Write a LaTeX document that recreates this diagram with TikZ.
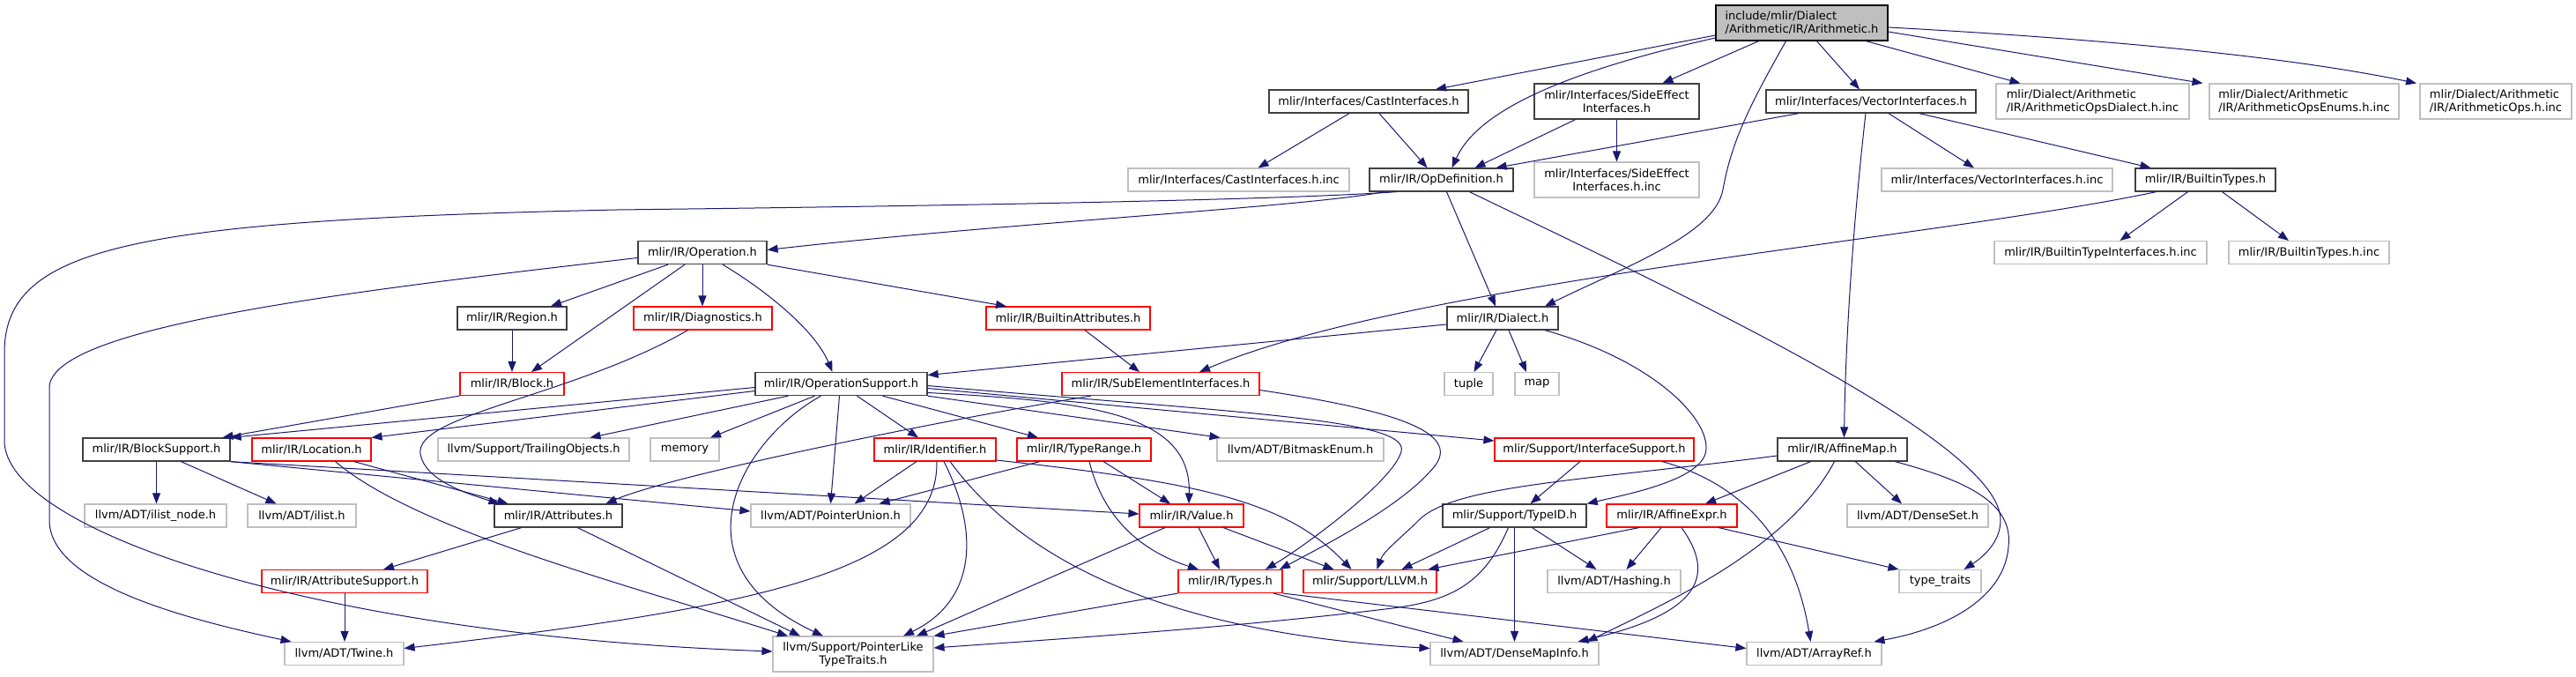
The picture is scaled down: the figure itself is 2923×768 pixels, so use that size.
\documentclass[tikz,border=0pt]{standalone}
\usepackage{fontspec}
\setmainfont{DejaVu Sans}
\usetikzlibrary{arrows.meta,calc}

\definecolor{edgeblue}{HTML}{191970}
\definecolor{boxgrey}{HTML}{BFBFBF}
\definecolor{boxdark}{HTML}{404040}

\begin{document}
\begin{tikzpicture}[
    x=1pt, y=-1pt,
    >={Triangle[length=12pt,width=9pt]}, % 箭头样式
    font=\fontsize{13pt}{15pt}\selectfont,
    hdr/.style={rectangle, inner sep=0pt, minimum height=26pt},
    mainnode/.style={hdr, draw=black, line width=1.3pt, fill=boxgrey, minimum height=40pt, align=left},
    docnode/.style={hdr, draw=boxdark, line width=1.3pt},
    truncnode/.style={hdr, draw=red, line width=1.1pt},
    extnode/.style={hdr, draw=boxgrey, line width=1.1pt},
    twoline/.style={minimum height=40pt},
    dep/.style={->, draw=edgeblue, line width=1pt}
]

    % --- 画布范围 ---
    \path[use as bounding box, fill=white] (0,0) rectangle (2923,768);

    % --- 第 1 行: 主文件 ---
    \node[mainnode, minimum width=195pt] (arith) at (2044.5,26) {include/mlir/Dialect\\/Arithmetic/IR/Arithmetic.h};

    % --- 第 2 行 ---
    \node[docnode, minimum width=226pt] (cast) at (1553,115) {mlir/Interfaces/CastInterfaces.h};
    \node[docnode, twoline, align=center, minimum width=187pt] (side) at (1834.5,115) {mlir/Interfaces/SideEffect\\Interfaces.h};
    \node[docnode, minimum width=238pt] (vect) at (2123,115) {mlir/Interfaces/VectorInterfaces.h};
    \node[extnode, twoline, align=left, minimum width=219pt] (opsdialect) at (2374.5,115) {mlir/Dialect/Arithmetic\\/IR/ArithmeticOpsDialect.h.inc};
    \node[extnode, twoline, align=left, minimum width=215pt] (opsenums) at (2614.5,115) {mlir/Dialect/Arithmetic\\/IR/ArithmeticOpsEnums.h.inc};
    \node[extnode, twoline, align=left, minimum width=172pt] (opsinc) at (2832,115) {mlir/Dialect/Arithmetic\\/IR/ArithmeticOps.h.inc};

    % --- 第 3 行 ---
    \node[extnode, minimum width=251pt] (castinc) at (1405.5,204) {mlir/Interfaces/CastInterfaces.h.inc};
    \node[docnode, minimum width=163pt] (opdef) at (1635.5,204) {mlir/IR/OpDefinition.h};
    \node[extnode, twoline, align=center, minimum width=187pt] (sideinc) at (1834.5,204) {mlir/Interfaces/SideEffect\\Interfaces.h.inc};
    \node[extnode, minimum width=262pt] (vectinc) at (2266,204) {mlir/Interfaces/VectorInterfaces.h.inc};
    \node[docnode, minimum width=159pt] (btypes) at (2502.5,204) {mlir/IR/BuiltinTypes.h};

    % --- 第 4 行 ---
    \node[docnode, minimum width=146pt] (operation) at (797,286.5) {mlir/IR/Operation.h};
    \node[extnode, minimum width=241pt] (btypeifinc) at (2383.5,286.5) {mlir/IR/BuiltinTypeInterfaces.h.inc};
    \node[extnode, minimum width=182pt] (btypesinc) at (2620,286.5) {mlir/IR/BuiltinTypes.h.inc};

    % --- 第 5 行 ---
    \node[docnode, minimum width=124pt] (region) at (581,361) {mlir/IR/Region.h};
    \node[truncnode, minimum width=157pt] (diag) at (797.5,361) {mlir/IR/Diagnostics.h};
    \node[truncnode, minimum width=186pt] (battr) at (1212,361) {mlir/IR/BuiltinAttributes.h};
    \node[docnode, minimum width=126pt] (dialect) at (1705,361) {mlir/IR/Dialect.h};

    % --- 第 6 行 ---
    \node[truncnode, minimum width=118pt] (block) at (581,435.5) {mlir/IR/Block.h};
    \node[docnode, minimum width=195pt] (opsupport) at (954.5,435.5) {mlir/IR/OperationSupport.h};
    \node[truncnode, minimum width=224pt] (subelem) at (1317,435.5) {mlir/IR/SubElementInterfaces.h};
    \node[extnode, minimum width=55pt] (tuple) at (1666.5,435.5) {tuple};
    \node[extnode, minimum width=50pt] (map) at (1744,435.5) {map};

    % --- 第 7 行 ---
    \node[docnode, minimum width=167pt] (blocksup) at (177.5,510) {mlir/IR/BlockSupport.h};
    \node[truncnode, minimum width=135pt] (location) at (353.5,510) {mlir/IR/Location.h};
    \node[extnode, minimum width=217pt] (trailing) at (605.5,510) {llvm/Support/TrailingObjects.h};
    \node[extnode, minimum width=78pt] (memory) at (777,510) {memory};
    \node[truncnode, minimum width=138pt] (ident) at (1061,510) {mlir/IR/Identifier.h};
    \node[truncnode, minimum width=152pt] (typerange) at (1230,510) {mlir/IR/TypeRange.h};
    \node[extnode, minimum width=189pt] (bitmask) at (1475.5,510) {llvm/ADT/BitmaskEnum.h};
    \node[truncnode, minimum width=226pt] (ifsupport) at (1809,510) {mlir/Support/InterfaceSupport.h};
    \node[docnode, minimum width=147pt] (affinemap) at (2090.5,510) {mlir/IR/AffineMap.h};

    % --- 第 8 行 ---
    \node[extnode, minimum width=161pt] (ilistnode) at (176.5,585) {llvm/ADT/ilist\_node.h};
    \node[extnode, minimum width=123pt] (ilist) at (342.5,585) {llvm/ADT/ilist.h};
    \node[docnode, minimum width=145pt] (attrs) at (633.5,585) {mlir/IR/Attributes.h};
    \node[extnode, minimum width=181pt] (ptrunion) at (942.5,585) {llvm/ADT/PointerUnion.h};
    \node[truncnode, minimum width=118pt] (value) at (1352,585) {mlir/IR/Value.h};
    \node[docnode, minimum width=163pt] (typeid) at (1718.5,585) {mlir/Support/TypeID.h};
    \node[truncnode, minimum width=148pt] (affexpr) at (1897,585) {mlir/IR/AffineExpr.h};
    \node[extnode, minimum width=160pt] (denseset) at (2176,585) {llvm/ADT/DenseSet.h};

    % --- 第 9 行 ---
    \node[truncnode, minimum width=188pt] (attrsup) at (391,659.5) {mlir/IR/AttributeSupport.h};
    \node[truncnode, minimum width=118pt] (types) at (1396,659.5) {mlir/IR/Types.h};
    \node[truncnode, minimum width=151pt] (llvmh) at (1554.5,659.5) {mlir/Support/LLVM.h};
    \node[extnode, minimum width=151pt] (hashing) at (1831.5,659.5) {llvm/ADT/Hashing.h};
    \node[extnode, minimum width=93pt] (typetraits) at (2201.5,659.5) {type\_traits};

    % --- 第 10 行 ---
    \node[extnode, minimum width=135pt] (twine) at (390.5,741.5) {llvm/ADT/Twine.h};
    \node[extnode, twoline, align=center, minimum width=182pt] (ptrlike) at (968,742) {llvm/Support/PointerLike\\TypeTraits.h};
    \node[extnode, minimum width=191pt] (densemapinfo) at (1718.5,741.5) {llvm/ADT/DenseMapInfo.h};
    \node[extnode, minimum width=153pt] (arrayref) at (2058.5,741.5) {llvm/ADT/ArrayRef.h};

    % --- 依赖连线 ---

    % 1. Arithmetic.h
    \draw[dep] ([yshift=-14pt]arith.west) -- ([xshift=76pt]cast.north);
    \draw[dep] ([yshift=-17pt]arith.west) .. controls (1760,85) and (1675,130) .. ([xshift=12pt]opdef.north);
    \draw[dep] ([xshift=-49pt]arith.south) -- ([xshift=52pt]side.north);
    \draw[dep] ([xshift=-18pt]arith.south) .. controls (1985,120) and (1965,160) .. (1955,215)
               .. controls (1946,265) and (1850,300) .. ([xshift=48pt]dialect.north);
    \draw[dep] ([xshift=17pt]arith.south) -- ([xshift=-13pt]vect.north);
    \draw[dep] ([xshift=73pt]arith.south) -- ([xshift=-82pt]opsdialect.north);
    \draw[dep] ([yshift=-10pt]arith.east) -- ([xshift=-115pt]opsenums.north);
    \draw[dep] ([yshift=-5pt]arith.east) .. controls (2400,45) and (2600,65) .. ([xshift=-90pt]opsinc.north);

    % 2. Interfaces
    \draw[dep] ([xshift=-22pt]cast.south) -- ([xshift=22pt]castinc.north);
    \draw[dep] ([xshift=12pt]cast.south) -- ([xshift=-16pt]opdef.north);
    \draw[dep] ([xshift=-47pt]side.south) -- ([xshift=38pt]opdef.north);
    \draw[dep] (side.south) -- (sideinc.north);
    \draw[dep] ([xshift=-82pt]vect.south) -- ([xshift=62pt]opdef.north);
    \draw[dep] ([xshift=20pt]vect.south) -- ([xshift=-26pt]vectinc.north);
    \draw[dep] ([xshift=55pt]vect.south) -- ([xshift=-62pt]btypes.north);
    \draw[dep] ([xshift=-6pt]vect.south) .. controls (2102,260) and (2094,390) .. ([xshift=2pt]affinemap.north);

    % 3. OpDefinition.h
    \draw[dep] ([xshift=-65pt]opdef.south) .. controls (1480,235) and (1150,252) .. ([yshift=3pt]operation.east);
    \draw[dep] ([xshift=-51pt]opdef.south) .. controls (1480,225) and (1200,232) .. (700,238)
               .. controls (150,250) and (5,280) .. (5,400) -- (5,500)
               .. controls (5,600) and (350,720) .. ([yshift=3pt]ptrlike.west);
    \draw[dep] ([xshift=6pt]opdef.south) -- ([xshift=-8pt]dialect.north);
    \draw[dep] ([xshift=32pt]opdef.south) .. controls (1900,330) and (2270,500) .. (2270,590)
               .. controls (2270,615) and (2250,632) .. ([xshift=27pt]typetraits.north);

    % 4. BuiltinTypes.h
    \draw[dep] ([xshift=-56pt]btypes.south) .. controls (2200,270) and (1600,320) .. ([xshift=44pt]subelem.north);
    \draw[dep] ([xshift=-20pt]btypes.south) -- ([xshift=22pt]btypeifinc.north);
    \draw[dep] ([xshift=19pt]btypes.south) -- ([xshift=-23pt]btypesinc.north);

    % 5. Operation.h
    \draw[dep] ([xshift=-39pt]operation.south) -- ([xshift=44pt]region.north);
    \draw[dep] ([xshift=-20pt]operation.south) -- ([xshift=22pt]block.north);
    \draw[dep] (operation.south) -- (operation.south |- diag.north);
    \draw[dep] ([xshift=23pt]operation.south) .. controls (870,330) and (925,375) .. ([xshift=-10pt]opsupport.north);
    \draw[dep] (operation.south east) -- ([xshift=-70pt]battr.north);
    \draw[dep] ([yshift=-6pt]operation.west) .. controls (400,330) and (56,370) .. (56,440) -- (56,590)
               .. controls (56,660) and (200,700) .. ([xshift=-60pt]twine.north);

    % 6. Region / Diagnostics / BuiltinAttributes / Block
    \draw[dep] (region.south) -- (block.north);
    \draw[dep] ([xshift=-17pt]diag.south) .. controls (650,450) and (470,470) .. (477,515)
               .. controls (482,545) and (530,560) .. ([xshift=-67pt]attrs.north);
    \draw[dep] ([xshift=19pt]battr.south) -- ([xshift=-24pt]subelem.north);
    \draw[dep] (block.south west) -- ([xshift=75pt]blocksup.north);

    % 7. OperationSupport.h
    \draw[dep] ([yshift=-4pt]opsupport.west) -- (blocksup.north east);
    \draw[dep] ([yshift=-8pt]opsupport.west) -- (location.north east);
    \draw[dep] ([xshift=-60pt]opsupport.south) -- ([xshift=64pt]trailing.north);
    \draw[dep] ([xshift=-30pt]opsupport.south) -- ([xshift=29pt]memory.north);
    \draw[dep] ([xshift=-23pt]opsupport.south) .. controls (840,500) and (760,640) .. ([xshift=-34pt]ptrlike.north);
    \draw[dep] ([xshift=-2pt]opsupport.south) -- (ptrunion.north);
    \draw[dep] ([xshift=18pt]opsupport.south) -- ([xshift=-19pt]ident.north);
    \draw[dep] ([xshift=47pt]opsupport.south) -- ([xshift=-52pt]typerange.north);
    \draw[dep] (opsupport.south east) -- ([xshift=-91pt]bitmask.north);
    \draw[dep] ([yshift=-10pt]opsupport.east) .. controls (1240,455) and (1352,470) .. ([xshift=-3pt]value.north);
    \draw[dep] ([yshift=-5pt]opsupport.east) -- ([yshift=10pt]ifsupport.west);
    \draw[dep] ([yshift=-2pt]opsupport.east) .. controls (1400,468) and (1600,475) .. (1590,512)
               .. controls (1582,545) and (1480,620) .. ([xshift=40pt]types.north);

    % 8. SubElementInterfaces.h / Dialect.h
    \draw[dep] ([xshift=-79pt]subelem.south) .. controls (1050,480) and (760,540) .. ([xshift=54pt]attrs.north);
    \draw[dep] ([yshift=-7pt]subelem.east) .. controls (1580,465) and (1660,490) .. (1627,530)
               .. controls (1590,575) and (1500,620) .. ([xshift=56pt]types.north);
    \draw[dep] ([yshift=-7pt]dialect.west) -- ([yshift=10pt]opsupport.east);
    \draw[dep] ([xshift=-7pt]dialect.south) -- ([xshift=6pt]tuple.north);
    \draw[dep] ([xshift=7pt]dialect.south) -- ([xshift=-12pt]map.north);
    \draw[dep] ([xshift=48pt]dialect.south) .. controls (1880,410) and (1945,480) .. (1935,515)
               .. controls (1925,545) and (1850,560) .. (typeid.north east);

    % 9. InterfaceSupport / AffineMap / AffineExpr / TypeID
    \draw[dep] ([xshift=-16pt]ifsupport.south) -- ([xshift=18pt]typeid.north);
    \draw[dep] ([xshift=77pt]ifsupport.south) .. controls (2000,555) and (2040,640) .. ([xshift=-4pt]arrayref.north);
    \draw[dep] ([yshift=-7pt]affinemap.west) .. controls (1800,545) and (1650,550) .. (1610,590)
               .. controls (1590,610) and (1570,625) .. ([xshift=8pt]llvmh.north);
    \draw[dep] ([xshift=-36pt]affinemap.south) -- ([xshift=38pt]affexpr.north);
    \draw[dep] ([xshift=-9pt]affinemap.south) .. controls (2030,620) and (1900,680) .. ([xshift=82pt]densemapinfo.north);
    \draw[dep] ([xshift=15pt]affinemap.south) -- ([xshift=-18pt]denseset.north);
    \draw[dep] ([xshift=60pt]affinemap.south) .. controls (2230,545) and (2285,570) .. (2279,620)
               .. controls (2275,675) and (2215,712) .. ([xshift=68pt]arrayref.north);
    \draw[dep] ([xshift=-37pt]affexpr.south) -- ([xshift=66pt]llvmh.north);
    \draw[dep] ([xshift=-12pt]affexpr.south) -- ([xshift=14pt]hashing.north);
    \draw[dep] ([xshift=11pt]affexpr.south) .. controls (1945,650) and (1935,695) .. ([xshift=72pt]densemapinfo.north);
    \draw[dep] ([xshift=53pt]affexpr.south) -- (typetraits.north west);
    \draw[dep] ([xshift=-28pt]typeid.south) -- ([xshift=36pt]llvmh.north);
    \draw[dep] ([xshift=-7pt]typeid.south) .. controls (1685,660) and (1650,681) .. (1580,690)
               .. controls (1400,712) and (1200,725) .. ([yshift=7pt]ptrlike.east);
    \draw[dep] (typeid.south) -- (densemapinfo.north);
    \draw[dep] ([xshift=20pt]typeid.south) -- ([xshift=-20pt]hashing.north);

    % 10. Identifier / TypeRange / Value / Types
    \draw[dep] ([xshift=-21pt]ident.south) -- ([xshift=27pt]ptrunion.north);
    \draw[dep] ([xshift=2pt]ident.south) .. controls (1065,650) and (850,690) .. ([yshift=6pt]twine.east);
    \draw[dep] ([xshift=10pt]ident.south) .. controls (1110,600) and (1110,680) .. ([xshift=57pt]ptrlike.north);
    \draw[dep] ([xshift=17pt]ident.south) .. controls (1200,690) and (1450,725) .. ([yshift=6pt]densemapinfo.west);
    \draw[dep] ([yshift=-12pt]ident.east) .. controls (1370,548) and (1460,570) .. ([xshift=-21pt]llvmh.north);
    \draw[dep] ([xshift=-50pt]typerange.south) -- ([xshift=55pt]ptrunion.north);
    \draw[dep] ([xshift=22pt]typerange.south) -- ([xshift=-24pt]value.north);
    \draw[dep] ([xshift=6pt]typerange.south) .. controls (1255,600) and (1310,630) .. ([xshift=-36pt]types.north);
    \draw[dep] ([xshift=8pt]value.south) -- ([xshift=-12pt]types.north);
    \draw[dep] ([xshift=-30pt]value.south) -- ([xshift=72pt]ptrlike.north);
    \draw[dep] ([xshift=36pt]value.south) -- ([xshift=-41pt]llvmh.north);
    \draw[dep] (types.south west) -- (ptrlike.north east);
    \draw[dep] ([xshift=49pt]types.south) -- ([xshift=-58pt]densemapinfo.north);
    \draw[dep] (types.south east) -- ([yshift=6pt]arrayref.west);

    % 11. BlockSupport / Location / Attributes
    \draw[dep] (blocksup.south) -- (blocksup.south |- ilistnode.north);
    \draw[dep] ([xshift=28pt]blocksup.south) -- ([xshift=-29pt]ilist.north);
    \draw[dep] (blocksup.south east) -- ([yshift=2pt]value.west);
    \draw[dep] (blocksup.south east) -- ([yshift=5pt]ptrunion.west);
    \draw[dep] ([xshift=48pt]location.south) -- ([xshift=-57pt]attrs.north);
    \draw[dep] ([xshift=27pt]location.south) .. controls (470,600) and (700,660) .. ([xshift=-74pt]ptrlike.north);
    \draw[dep] ([xshift=-42pt]attrs.south) -- ([xshift=44pt]attrsup.north);
    \draw[dep] ([xshift=22pt]attrs.south) -- ([xshift=-60pt]ptrlike.north);
    \draw[dep] (attrsup.south) -- (attrsup.south |- twine.north);
\end{tikzpicture}
\end{document}
